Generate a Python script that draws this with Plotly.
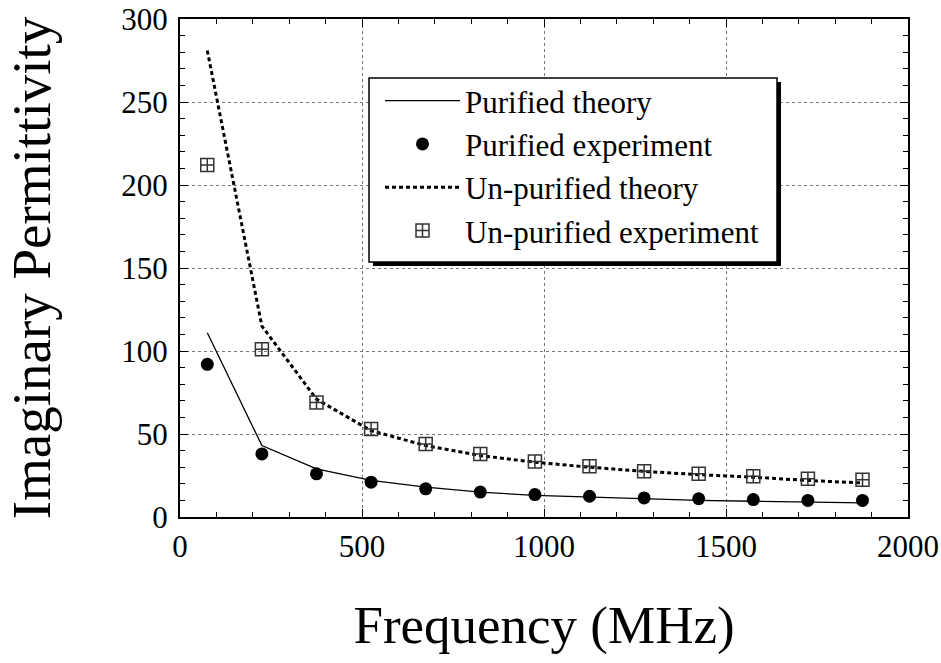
import plotly.graph_objects as go

# Frequency sweep (MHz)
freq = [75, 225, 375, 525, 675, 825, 975, 1125, 1275, 1425, 1575, 1725, 1875]

# Imaginary permittivity
purified_theory = [111, 43, 29, 22, 18, 15, 13, 12, 11, 10, 9.5, 9, 8.5]
purified_exp = [92, 38, 26, 21, 17, 15, 13.5, 12.5, 11.5, 11, 10.5, 10, 10]
unpurified_theory = [281, 115, 71, 52, 43, 37, 33, 30, 27.5, 25.5, 24, 22, 20.5]
unpurified_exp = [212, 101, 69, 53, 44, 38, 33.5, 30.5, 27.5, 26, 24.5, 23, 22.5]

FONT = "Liberation Serif"

fig = go.Figure()
fig.add_trace(go.Scatter(
    x=freq, y=purified_theory, mode="lines", name="Purified theory",
    line=dict(color="black", width=1.3), legendgroup="a"))
fig.add_trace(go.Scatter(
    x=freq, y=purified_exp, mode="markers", name="Purified experiment",
    marker=dict(symbol="circle", size=13, color="black"), legendgroup="b"))
fig.add_trace(go.Scatter(
    x=freq, y=unpurified_theory, mode="lines", name="Un-purified theory",
    line=dict(color="black", width=3, dash="4px,3px"), legendgroup="c"))
fig.add_trace(go.Scatter(
    x=freq, y=unpurified_exp, mode="markers", name="Un-purified experiment",
    marker=dict(symbol="square-cross-open", size=13, color="#333333",
                line=dict(width=1.5)), legendgroup="d"))

axis_common = dict(
    showline=True, linecolor="black", linewidth=2, mirror="allticks",
    ticks="inside", ticklen=8, tickwidth=1.2, tickcolor="black",
    showgrid=True, gridcolor="#777777", gridwidth=1, griddash="dot",
    zeroline=False, automargin=False, ticklabeloverflow="allow",
    tickfont=dict(family=FONT, size=31, color="black"),
)

fig.update_xaxes(
    range=[0, 2000], dtick=500, tick0=0, ticklabelstandoff=1,
    minor=dict(dtick=100, ticks="inside", ticklen=5, tickcolor="black", showgrid=False),
    title=dict(text="Frequency (MHz)", font=dict(family=FONT, size=53, color="black"), standoff=43),
    **axis_common)
fig.update_yaxes(
    range=[0, 300], dtick=50, tick0=0, ticklabelstandoff=4,
    minor=dict(dtick=10, ticks="inside", ticklen=5, tickcolor="black", showgrid=False),
    title=dict(text="Imaginary Permittivity", font=dict(family=FONT, size=55, color="black"), standoff=53),
    **axis_common)

# Plot area in pixels: x 180..908, y 19..517
def px_x(p):
    return (p - 180) / 728

def px_y(p):
    return (517 - p) / 498

# Legend frame: offset black shadow, then the white box on top of it
fig.add_shape(type="rect", xref="paper", yref="paper",
              x0=px_x(373), x1=px_x(781), y0=px_y(266), y1=px_y(82),
              fillcolor="black", line=dict(width=0), layer="above")
fig.add_shape(type="rect", xref="paper", yref="paper",
              x0=px_x(369), x1=px_x(777), y0=px_y(262), y1=px_y(78),
              fillcolor="white", line=dict(color="black", width=1.5), layer="above")

fig.update_layout(
    width=941, height=663,
    margin=dict(l=180, r=33, t=19, b=146),
    paper_bgcolor="white", plot_bgcolor="white",
    font=dict(family=FONT, color="black"),
    legend=dict(
        x=px_x(380), y=px_y(74), xanchor="left", yanchor="top",
        bgcolor="rgba(0,0,0,0)", borderwidth=0,
        font=dict(family=FONT, size=31, color="black"),
        itemwidth=75, traceorder="grouped", tracegroupgap=0,
    ),
    showlegend=True,
)

fig.write_html("out.html")
